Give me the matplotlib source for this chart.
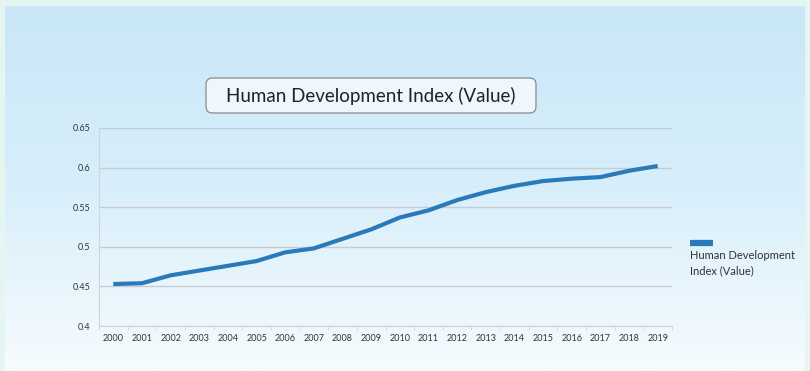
import matplotlib
matplotlib.use("Agg")
import matplotlib.pyplot as plt
import numpy as np
from matplotlib.patches import FancyBboxPatch
from matplotlib.lines import Line2D
from matplotlib.colors import LinearSegmentedColormap

years = [str(y) for y in range(2000, 2020)]
hdi_values = [0.453, 0.454, 0.464, 0.470, 0.476, 0.482, 0.493, 0.498, 0.510, 0.522,
              0.537, 0.546, 0.559, 0.569, 0.577, 0.583, 0.586, 0.588, 0.596, 0.602]
y_ticks = [0.4, 0.45, 0.5, 0.55, 0.6, 0.65]
y_tick_labels = ["0.4", "0.45", "0.5", "0.55", "0.6", "0.65"]
title = "Human Development Index (Value)"
legend_label = "Human Development\nIndex (Value)"

plt.rcParams['font.family'] = ['Lato', 'DejaVu Sans']

W, H = 810, 371
fig = plt.figure(figsize=(W / 100, H / 100), dpi=100)
fig.patch.set_facecolor("#e4f5f2")

# background gradient
bg = fig.add_axes([5 / W, 0, 1 - 10 / W, 1 - 6 / H])
bg.set_axis_off()
cmap = LinearSegmentedColormap.from_list("g", ["#c9e7f8", "#d8effb", "#f6fbfe"])
grad = np.linspace(0, 1, 256).reshape(-1, 1)
bg.imshow(grad, aspect="auto", cmap=cmap, extent=[0, 1, 0, 1], origin="upper")
bg.set_xlim(0, 1)
bg.set_ylim(0, 1)

# main axes
x0, x1 = 99, 672
y_top, y_bot = 128, 326
ax = fig.add_axes([x0 / W, 1 - y_bot / H, (x1 - x0) / W, (y_bot - y_top) / H])
ax.patch.set_alpha(0)
xs = np.arange(len(years))
line, = ax.plot(xs, hdi_values, color="#2a7ab9", lw=3, solid_capstyle="butt")
ax.set_xlim(-0.5, len(years) - 0.5)
ax.set_ylim(0.4, 0.65)
ax.set_yticks(y_ticks)
ax.set_yticklabels(y_tick_labels)
ax.set_xticks(xs)
ax.set_xticklabels(years)
ax.grid(axis="y", color="#c8ccd0", lw=1)
ax.set_axisbelow(True)
for s in ["top", "right"]:
    ax.spines[s].set_visible(False)
ax.spines["left"].set_color("#d0d4d8")
ax.spines["bottom"].set_color("#d0d4d8")
ax.tick_params(axis="both", labelsize=6.5, colors="#d0d4d8", labelcolor="#333333", length=3)
ax.tick_params(axis="y", length=0, pad=6)
ax.set_xticks(np.arange(-0.5, len(years)), minor=True)
ax.tick_params(axis="x", which="major", length=0, pad=6)
ax.tick_params(axis="x", which="minor", length=3, color="#d0d4d8")

# title box
bx0, bx1, by0, by1 = 206, 536, 78, 113
box = FancyBboxPatch((bx0 / W, 1 - by1 / H), (bx1 - bx0) / W, (by1 - by0) / H,
                     boxstyle="round,pad=0,rounding_size=0.008", transform=fig.transFigure,
                     fc="#eef7fc", ec="#8a8a8a", lw=0.9, mutation_aspect=W / H)
fig.add_artist(box)
fig.text((bx0 + bx1) / 2 / W, 1 - 96 / H, title, ha="center", va="center",
         fontsize=13.5, color="#222222")

# legend (handle above text)
fig.add_artist(Line2D([690 / W, 713 / W], [1 - 242.5 / H, 1 - 242.5 / H],
                      transform=fig.transFigure, color=line.get_color(), lw=4.5,
                      solid_capstyle="butt"))
fig.text(690 / W, 1 - 250 / H, legend_label, ha="left", va="top", fontsize=8,
         color="#333333", linespacing=1.45)

fig.savefig("out.png", dpi=100, facecolor=fig.get_facecolor())
